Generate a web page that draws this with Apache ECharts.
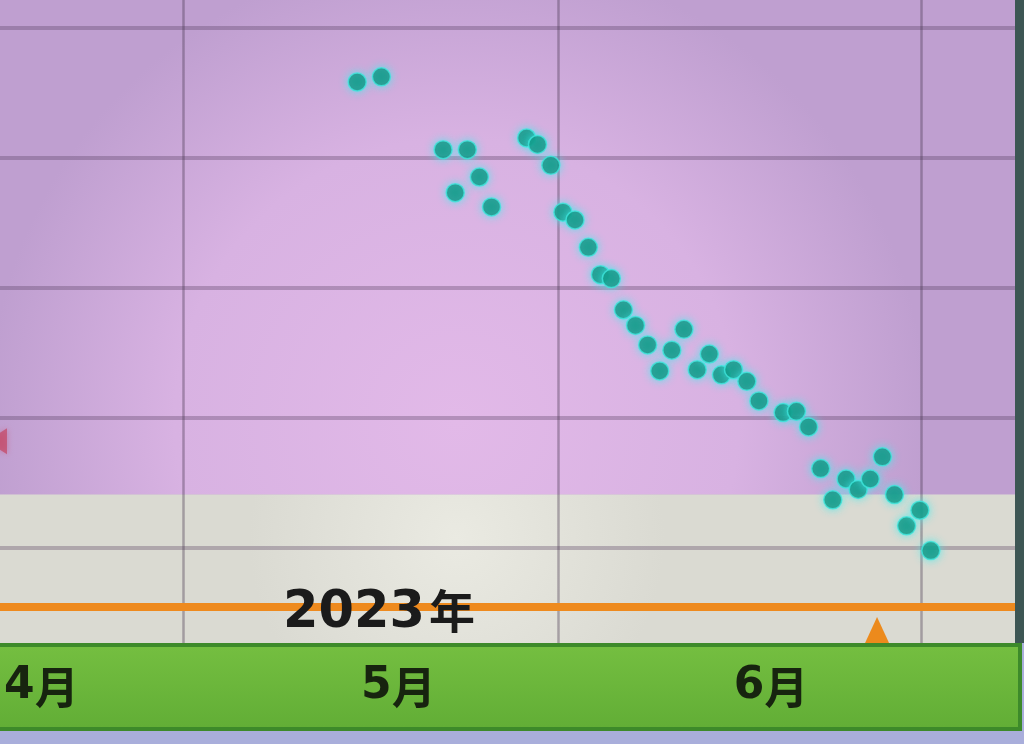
<!DOCTYPE html>
<html>
<head>
<meta charset="utf-8">
<script src="https://cdn.jsdelivr.net/npm/echarts@6/dist/echarts.min.js"></script>
<style>
  html, body { margin: 0; padding: 0; }
  #chart {
    width: 1024px; height: 744px;
    background:
      linear-gradient(to right, transparent 1015px, #3d5654 1015px) top left / 100% 643px no-repeat,
      linear-gradient(to right, transparent 1018px, #3d8a2a 1018px, #3d8a2a 1022px, #a9aedb 1022px) 0 643px / 100% 88px no-repeat,
      linear-gradient(to bottom, #c4a4d0 0, #c4a4d0 643px, #3d8a2a 643px, #3d8a2a 647px, #74be40 647px, #62ae36 727px, #3d8a2a 727px, #3d8a2a 731px, #a9aedb 731px);
  }
</style>
</head>
<body>
<div id="chart"></div>
<script>
// x = day index counted from 2023-04-01 (0 = Apr 1)
const monthStarts = [30, 61, 91];            // May 1, Jun 1, Jul 1 (grid lines)
const monthLabelPos = [18.3, 47.8, 78.6];    // where the month names sit
const monthLabels = ['4月', '5月', '6月'];
const yearLabel = '2023年';
const weightTicks = [66, 67, 68, 69, 70];    // horizontal grid lines

const dayX = [44.4, 46.4, 51.5, 52.5, 53.5, 54.5, 55.5, 58.4, 59.3, 60.4,
              61.4, 62.4, 63.5, 64.5, 65.4, 66.4, 67.4, 68.4, 69.4, 70.4,
              71.4, 72.5, 73.5, 74.5, 75.5, 76.6, 77.6, 79.6, 80.7, 81.7,
              82.7, 83.7, 84.8, 85.8, 86.8, 87.8, 88.8, 89.8, 90.9, 91.8];
const weight = [69.58, 69.62, 69.06, 68.73, 69.06, 68.85, 68.62, 69.15, 69.10, 68.94,
                68.58, 68.52, 68.31, 68.10, 68.07, 67.83, 67.71, 67.56, 67.36, 67.52,
                67.68, 67.37, 67.49, 67.33, 67.37, 67.28, 67.13, 67.04, 67.05, 66.93,
                66.61, 66.37, 66.53, 66.45, 66.53, 66.70, 66.41, 66.17, 66.29, 65.98];

const goalWeight = 65.55;     // orange line
const zoneBoundary = 66.41;   // pink / cream boundary
const todayX = 87.36;         // orange triangle marker
const edgeMarkerY = 66.82;    // red marker at the left edge

const xMin = 14.88, xMax = 98.76;
const yMin = 65.27, yMax = 70.21;

const chart = echarts.init(document.getElementById('chart'), null, { renderer: 'canvas' });

chart.setOption({
  animation: false,
  backgroundColor: 'transparent',
  grid: { left: 0, right: 9, top: 0, bottom: 101, containLabel: false },
  xAxis: {
    type: 'value', min: xMin, max: xMax, z: 3,
    axisLine: { show: false },
    axisTick: { show: false, customValues: monthStarts },
    splitLine: { show: true, lineStyle: { color: 'rgba(70,55,80,0.38)', width: 2.5 } },
    axisLabel: {
      show: true,
      customValues: monthLabelPos,
      margin: 20,
      formatter: function (v) {
        const i = monthLabelPos.indexOf(v);
        const t = i >= 0 ? monthLabels[i] : '';
        return '{d|' + t.slice(0, -1) + '}{m|' + t.slice(-1) + '}';
      },
      rich: {
        d: { fontFamily: 'DejaVu Sans', fontWeight: 'bold', fontSize: 44, color: '#17240f', lineHeight: 48 },
        m: { fontFamily: 'Noto Sans CJK JP', fontWeight: 'bold', fontSize: 44, color: '#17240f', lineHeight: 48 }
      }
    }
  },
  yAxis: {
    type: 'value', min: yMin, max: yMax, z: 3,
    axisLine: { show: false },
    axisLabel: { show: false },
    axisTick: { show: false, customValues: weightTicks },
    splitLine: { show: true, lineStyle: { color: 'rgba(80,55,90,0.32)', width: 4 } }
  },
  graphic: [{
    type: 'text', left: 283, top: 588, z: 20,
    style: {
      text: '{d|' + yearLabel.slice(0, -1) + '}{y|' + yearLabel.slice(-1) + '}',
      rich: {
        d: { fontFamily: 'DejaVu Sans', fontWeight: 'bold', fontSize: 51, fill: '#1b1b1b', lineHeight: 52, verticalAlign: 'middle' },
        y: { fontFamily: 'Noto Sans CJK JP', fontWeight: 'bold', fontSize: 46, fill: '#1b1b1b', lineHeight: 52, verticalAlign: 'middle', padding: [0, 0, 6, 4] }
      }
    }
  }],
  series: [
    {
      // background zones + goal line (drawn beneath the grid lines)
      type: 'scatter',
      data: [],
      z: 1,
      markArea: {
        silent: true,
        data: [
          [{ yAxis: zoneBoundary, itemStyle: {
              color: { type: 'radial', x: 0.45, y: 0.85, r: 0.95,
                colorStops: [{ offset: 0, color: '#e2b9e8' }, { offset: 0.6, color: '#d8b2e2' }, { offset: 1, color: '#bf9fd0' }] } } },
           { yAxis: yMax }],
          [{ yAxis: yMin, itemStyle: {
              color: { type: 'radial', x: 0.45, y: 0.3, r: 1.4,
                colorStops: [{ offset: 0, color: '#eaeae2' }, { offset: 1, color: '#dadad2' }] } } },
           { yAxis: zoneBoundary }]
        ]
      }
    },
    {
      type: 'scatter',
      data: dayX.map((x, i) => [x, weight[i]]),
      symbol: 'circle',
      symbolSize: 18,
      z: 5,
      itemStyle: {
        color: '#0a8a74',
        borderColor: '#3fe6dc', borderWidth: 1.5,
        shadowColor: 'rgba(60,240,240,0.9)', shadowBlur: 8
      },
      markLine: {
        silent: true, symbol: 'none', label: { show: false },
        lineStyle: { color: '#ee8a1e', width: 8, type: 'solid' },
        data: [{ yAxis: goalWeight }]
      },
      markPoint: {
        silent: true,
        label: { show: false },
        data: [
          { coord: [todayX, yMin], symbol: 'triangle', symbolSize: [24, 26], symbolOffset: [0, -13],
            itemStyle: { color: '#ec8a1c' } },
          { coord: [xMin, edgeMarkerY], symbol: 'triangle', symbolSize: [26, 20], symbolRotate: 90, symbolOffset: [-3, 0],
            itemStyle: { color: 'rgba(196,70,100,0.7)', shadowBlur: 6, shadowColor: 'rgba(196,70,100,0.6)' } }
        ]
      }
    }
  ]
});
</script>
</body>
</html>
